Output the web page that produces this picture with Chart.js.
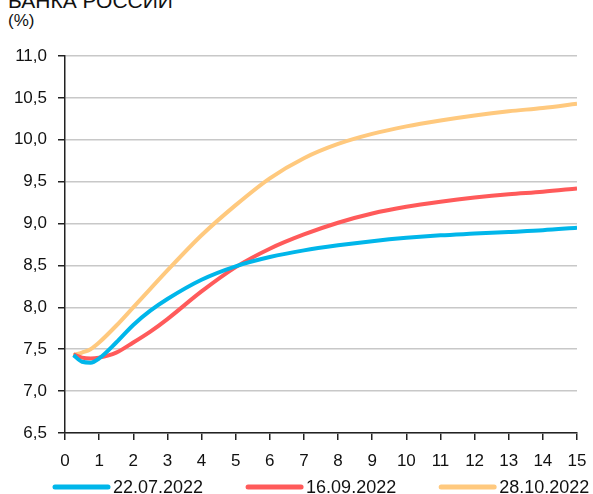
<!DOCTYPE html>
<html>
<head>
<meta charset="utf-8">
<script src="https://cdn.jsdelivr.net/npm/chart.js@4"></script>
<style>
  body { margin: 0; background: #fff; }
  #wrap { position: relative; width: 593px; height: 494px; overflow: hidden; }
  #title { position: absolute; left: 8px; top: -11px; font: 21px "Liberation Sans", Arial, sans-serif; color: #111; }
  #unit { position: absolute; left: 8px; top: 11px; font: 17px "Liberation Sans", Arial, sans-serif; color: #111; }
  canvas { position: absolute; left: 0; top: 0; }
</style>
</head>
<body>
<div id="wrap">
  <div id="title">БАНКА РОССИИ</div>
  <div id="unit">(%)</div>
  <canvas id="chart" width="593" height="494"></canvas>
</div>
<script>
// срок (лет)
const terms = [0.25, 0.5, 0.75, 1, 1.5, 2, 2.5, 3, 4, 5, 6, 7, 8, 9, 10, 11, 12, 13, 14, 15];

const curveJul = [7.43, 7.35, 7.34, 7.39, 7.58, 7.79, 7.96, 8.10, 8.33, 8.49, 8.60, 8.68, 8.74, 8.79, 8.83, 8.86, 8.88, 8.90, 8.92, 8.95];
const curveSep = [7.44, 7.40, 7.39, 7.40, 7.46, 7.58, 7.71, 7.86, 8.19, 8.48, 8.70, 8.87, 9.01, 9.12, 9.20, 9.26, 9.31, 9.35, 9.38, 9.42];
const curveOct = [7.43, 7.46, 7.50, 7.58, 7.78, 8.00, 8.22, 8.44, 8.86, 9.22, 9.54, 9.78, 9.95, 10.07, 10.16, 10.23, 10.29, 10.34, 10.38, 10.43];

const seriesNames = ["22.07.2022", "16.09.2022", "28.10.2022"];
const seriesColors = ["#00B6EA", "#FF5A5A", "#FFC97E"];

const xTicks = [0, 1, 2, 3, 4, 5, 6, 7, 8, 9, 10, 11, 12, 13, 14, 15];
const yTicks = [6.5, 7.0, 7.5, 8.0, 8.5, 9.0, 9.5, 10.0, 10.5, 11.0];

const FONT = "'Liberation Sans', Arial, sans-serif";

function toPoints(arr) {
  return arr.map((v, i) => ({ x: terms[i], y: v }));
}

const datasets = [curveJul, curveSep, curveOct].map((arr, i) => ({
  label: seriesNames[i],
  data: toPoints(arr),
  borderColor: seriesColors[i],
  backgroundColor: seriesColors[i],
  borderWidth: 4,
  pointRadius: 0,
  cubicInterpolationMode: "monotone",
  fill: false,
}));

// legend in one row under the axis, wide gaps between items
const bottomLegend = {
  id: "bottomLegend",
  afterDraw(chart) {
    const ctx = chart.ctx;
    ctx.save();
    ctx.font = "18px " + FONT;
    ctx.textBaseline = "middle";
    let x = 55;
    const y = 487;
    chart.data.datasets.forEach((ds) => {
      ctx.strokeStyle = ds.borderColor;
      ctx.lineWidth = 5;
      ctx.lineCap = "round";
      ctx.beginPath();
      ctx.moveTo(x, y);
      ctx.lineTo(x + 53, y);
      ctx.stroke();
      ctx.fillStyle = "#111";
      ctx.fillText(ds.label, x + 58, y + 1);
      x += 58 + ctx.measureText(ds.label).width + 45;
    });
    ctx.restore();
  },
};

new Chart(document.getElementById("chart"), {
  type: "line",
  data: { datasets },
  plugins: [bottomLegend],
  options: {
    responsive: false,
    animation: false,
    layout: { padding: { top: 56, right: 16, left: 0, bottom: 19 } },
    scales: {
      x: {
        type: "linear",
        min: 0,
        max: 15,
        afterBuildTicks: (s) => { s.ticks = xTicks.map((v) => ({ value: v })); },
        afterFit: (s) => { s.height = 42; s.paddingLeft = 0; s.paddingRight = 0; },
        grid: { drawOnChartArea: false, tickColor: "#222", tickLength: 7, lineWidth: 1.5 },
        border: { color: "#222", width: 1.5 },
        ticks: { color: "#111", font: { family: FONT, size: 17 }, padding: 11, maxRotation: 0 },
      },
      y: {
        min: 6.5,
        max: 11,
        afterBuildTicks: (s) => { s.ticks = yTicks.map((v) => ({ value: v })); },
        afterFit: (s) => { s.width = 65; },
        grid: { color: "#c8c8c8", lineWidth: 1.5, tickColor: "#222", tickLength: 7 },
        border: { color: "#222", width: 1.5 },
        ticks: {
          color: "#111",
          font: { family: FONT, size: 17 },
          padding: 11,
          callback: (v) => v.toFixed(1).replace(".", ","),
        },
      },
    },
    plugins: {
      legend: { display: false },
      tooltip: { enabled: false },
    },
  },
});
</script>
</body>
</html>
